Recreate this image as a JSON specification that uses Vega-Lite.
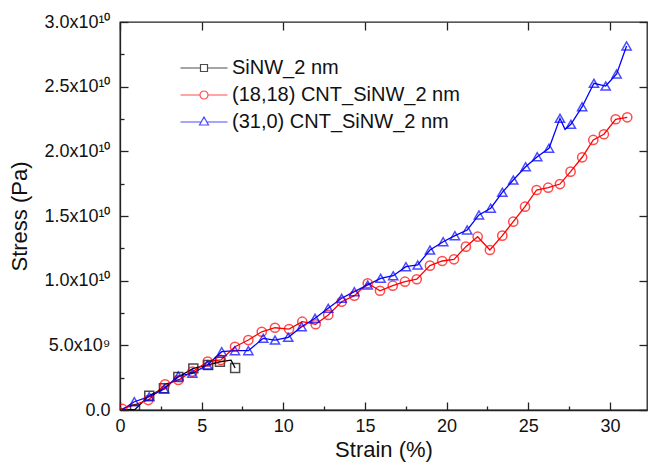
{
  "$schema": "https://vega.github.io/schema/vega-lite/v6.json",
  "width": 527,
  "height": 388,
  "autosize": {"type": "none"},
  "padding": {"left": 120, "top": 22, "right": 1, "bottom": 56},
  "background": "white",
  "config": {
    "font": "Liberation Sans",
    "view": {"stroke": "#222222", "strokeWidth": 1.3},
    "axis": {
      "domainColor": "#222222",
      "domainWidth": 1.3,
      "tickColor": "#222222",
      "tickWidth": 1.3,
      "labelFont": "Liberation Sans",
      "labelFontSize": 18,
      "labelColor": "#111111",
      "titleFont": "Liberation Sans",
      "titleFontSize": 22,
      "titleFontWeight": "normal",
      "titleColor": "#111111",
      "grid": false
    },
    "legend": {
      "labelFont": "Liberation Sans",
      "labelFontSize": 20,
      "labelColor": "#111111"
    }
  },
  "datasets": {
    "trace": [
      {"series": "SiNW_2 nm", "strain": 0.2, "stress": 0},
      {"series": "SiNW_2 nm", "strain": 0.92, "stress": 5e7},
      {"series": "SiNW_2 nm", "strain": 1.79, "stress": 1.11e9},
      {"series": "SiNW_2 nm", "strain": 2.69, "stress": 1.68e9},
      {"series": "SiNW_2 nm", "strain": 3.57, "stress": 2.55e9},
      {"series": "SiNW_2 nm", "strain": 4.49, "stress": 3.22e9},
      {"series": "SiNW_2 nm", "strain": 5.4, "stress": 3.48e9},
      {"series": "SiNW_2 nm", "strain": 6.12, "stress": 3.73e9},
      {"series": "SiNW_2 nm", "strain": 6.8, "stress": 3.85e9},
      {"series": "SiNW_2 nm", "strain": 7.05, "stress": 3.25e9},
      {"series": "(18,18) CNT_SiNW_2 nm", "strain": 0, "stress": 2e8},
      {"series": "(18,18) CNT_SiNW_2 nm", "strain": 0.14, "stress": 8e7},
      {"series": "(18,18) CNT_SiNW_2 nm", "strain": 1.73, "stress": 7.7e8},
      {"series": "(18,18) CNT_SiNW_2 nm", "strain": 2.76, "stress": 1.99e9},
      {"series": "(18,18) CNT_SiNW_2 nm", "strain": 3.57, "stress": 2.32e9},
      {"series": "(18,18) CNT_SiNW_2 nm", "strain": 4.43, "stress": 2.96e9},
      {"series": "(18,18) CNT_SiNW_2 nm", "strain": 5.37, "stress": 3.74e9},
      {"series": "(18,18) CNT_SiNW_2 nm", "strain": 6.18, "stress": 3.87e9},
      {"series": "(18,18) CNT_SiNW_2 nm", "strain": 7.04, "stress": 4.89e9},
      {"series": "(18,18) CNT_SiNW_2 nm", "strain": 7.86, "stress": 5.41e9},
      {"series": "(18,18) CNT_SiNW_2 nm", "strain": 8.68, "stress": 6.05e9},
      {"series": "(18,18) CNT_SiNW_2 nm", "strain": 9.49, "stress": 6.36e9},
      {"series": "(18,18) CNT_SiNW_2 nm", "strain": 10.35, "stress": 6.26e9},
      {"series": "(18,18) CNT_SiNW_2 nm", "strain": 11.16, "stress": 6.83e9},
      {"series": "(18,18) CNT_SiNW_2 nm", "strain": 11.98, "stress": 6.63e9},
      {"series": "(18,18) CNT_SiNW_2 nm", "strain": 12.75, "stress": 7.35e9},
      {"series": "(18,18) CNT_SiNW_2 nm", "strain": 13.57, "stress": 8.37e9},
      {"series": "(18,18) CNT_SiNW_2 nm", "strain": 14.35, "stress": 8.84e9},
      {"series": "(18,18) CNT_SiNW_2 nm", "strain": 15.17, "stress": 9.8e9},
      {"series": "(18,18) CNT_SiNW_2 nm", "strain": 15.92, "stress": 9.22e9},
      {"series": "(18,18) CNT_SiNW_2 nm", "strain": 16.7, "stress": 9.61e9},
      {"series": "(18,18) CNT_SiNW_2 nm", "strain": 17.45, "stress": 9.92e9},
      {"series": "(18,18) CNT_SiNW_2 nm", "strain": 18.17, "stress": 1.011e10},
      {"series": "(18,18) CNT_SiNW_2 nm", "strain": 18.98, "stress": 1.116e10},
      {"series": "(18,18) CNT_SiNW_2 nm", "strain": 19.73, "stress": 1.152e10},
      {"series": "(18,18) CNT_SiNW_2 nm", "strain": 20.45, "stress": 1.165e10},
      {"series": "(18,18) CNT_SiNW_2 nm", "strain": 21.18, "stress": 1.263e10},
      {"series": "(18,18) CNT_SiNW_2 nm", "strain": 21.9, "stress": 1.34e10},
      {"series": "(18,18) CNT_SiNW_2 nm", "strain": 22.65, "stress": 1.237e10},
      {"series": "(18,18) CNT_SiNW_2 nm", "strain": 23.41, "stress": 1.348e10},
      {"series": "(18,18) CNT_SiNW_2 nm", "strain": 24.08, "stress": 1.456e10},
      {"series": "(18,18) CNT_SiNW_2 nm", "strain": 24.8, "stress": 1.572e10},
      {"series": "(18,18) CNT_SiNW_2 nm", "strain": 25.51, "stress": 1.701e10},
      {"series": "(18,18) CNT_SiNW_2 nm", "strain": 26.22, "stress": 1.719e10},
      {"series": "(18,18) CNT_SiNW_2 nm", "strain": 26.94, "stress": 1.747e10},
      {"series": "(18,18) CNT_SiNW_2 nm", "strain": 27.59, "stress": 1.843e10},
      {"series": "(18,18) CNT_SiNW_2 nm", "strain": 28.3, "stress": 1.954e10},
      {"series": "(18,18) CNT_SiNW_2 nm", "strain": 28.98, "stress": 2.088e10},
      {"series": "(18,18) CNT_SiNW_2 nm", "strain": 29.63, "stress": 2.132e10},
      {"series": "(18,18) CNT_SiNW_2 nm", "strain": 30.35, "stress": 2.248e10},
      {"series": "(18,18) CNT_SiNW_2 nm", "strain": 31.06, "stress": 2.263e10},
      {"series": "(31,0) CNT_SiNW_2 nm", "strain": 0.1, "stress": 0},
      {"series": "(31,0) CNT_SiNW_2 nm", "strain": 0.88, "stress": 6.4e8},
      {"series": "(31,0) CNT_SiNW_2 nm", "strain": 1.79, "stress": 1.03e9},
      {"series": "(31,0) CNT_SiNW_2 nm", "strain": 2.71, "stress": 1.62e9},
      {"series": "(31,0) CNT_SiNW_2 nm", "strain": 3.57, "stress": 2.63e9},
      {"series": "(31,0) CNT_SiNW_2 nm", "strain": 4.43, "stress": 2.84e9},
      {"series": "(31,0) CNT_SiNW_2 nm", "strain": 5.35, "stress": 3.48e9},
      {"series": "(31,0) CNT_SiNW_2 nm", "strain": 6.23, "stress": 4.51e9},
      {"series": "(31,0) CNT_SiNW_2 nm", "strain": 7.04, "stress": 4.59e9},
      {"series": "(31,0) CNT_SiNW_2 nm", "strain": 7.86, "stress": 4.59e9},
      {"series": "(31,0) CNT_SiNW_2 nm", "strain": 8.77, "stress": 5.54e9},
      {"series": "(31,0) CNT_SiNW_2 nm", "strain": 9.49, "stress": 5.41e9},
      {"series": "(31,0) CNT_SiNW_2 nm", "strain": 10.3, "stress": 5.62e9},
      {"series": "(31,0) CNT_SiNW_2 nm", "strain": 11.12, "stress": 6.44e9},
      {"series": "(31,0) CNT_SiNW_2 nm", "strain": 11.94, "stress": 7.09e9},
      {"series": "(31,0) CNT_SiNW_2 nm", "strain": 12.75, "stress": 7.86e9},
      {"series": "(31,0) CNT_SiNW_2 nm", "strain": 13.57, "stress": 8.64e9},
      {"series": "(31,0) CNT_SiNW_2 nm", "strain": 14.35, "stress": 9.15e9},
      {"series": "(31,0) CNT_SiNW_2 nm", "strain": 15.17, "stress": 9.67e9},
      {"series": "(31,0) CNT_SiNW_2 nm", "strain": 15.96, "stress": 1.018e10},
      {"series": "(31,0) CNT_SiNW_2 nm", "strain": 16.73, "stress": 1.038e10},
      {"series": "(31,0) CNT_SiNW_2 nm", "strain": 17.51, "stress": 1.108e10},
      {"series": "(31,0) CNT_SiNW_2 nm", "strain": 18.23, "stress": 1.121e10},
      {"series": "(31,0) CNT_SiNW_2 nm", "strain": 18.98, "stress": 1.237e10},
      {"series": "(31,0) CNT_SiNW_2 nm", "strain": 19.79, "stress": 1.301e10},
      {"series": "(31,0) CNT_SiNW_2 nm", "strain": 20.51, "stress": 1.348e10},
      {"series": "(31,0) CNT_SiNW_2 nm", "strain": 21.26, "stress": 1.392e10},
      {"series": "(31,0) CNT_SiNW_2 nm", "strain": 21.98, "stress": 1.508e10},
      {"series": "(31,0) CNT_SiNW_2 nm", "strain": 22.7, "stress": 1.56e10},
      {"series": "(31,0) CNT_SiNW_2 nm", "strain": 23.41, "stress": 1.683e10},
      {"series": "(31,0) CNT_SiNW_2 nm", "strain": 24.08, "stress": 1.778e10},
      {"series": "(31,0) CNT_SiNW_2 nm", "strain": 24.84, "stress": 1.881e10},
      {"series": "(31,0) CNT_SiNW_2 nm", "strain": 25.55, "stress": 1.959e10},
      {"series": "(31,0) CNT_SiNW_2 nm", "strain": 26.27, "stress": 2.024e10},
      {"series": "(31,0) CNT_SiNW_2 nm", "strain": 26.94, "stress": 2.255e10},
      {"series": "(31,0) CNT_SiNW_2 nm", "strain": 27.25, "stress": 2.17e10},
      {"series": "(31,0) CNT_SiNW_2 nm", "strain": 27.61, "stress": 2.209e10},
      {"series": "(31,0) CNT_SiNW_2 nm", "strain": 28.3, "stress": 2.345e10},
      {"series": "(31,0) CNT_SiNW_2 nm", "strain": 29.02, "stress": 2.526e10},
      {"series": "(31,0) CNT_SiNW_2 nm", "strain": 29.74, "stress": 2.505e10},
      {"series": "(31,0) CNT_SiNW_2 nm", "strain": 30.41, "stress": 2.598e10},
      {"series": "(31,0) CNT_SiNW_2 nm", "strain": 31.02, "stress": 2.815e10}
    ],
    "markers": [
      {"series": "SiNW_2 nm", "strain": 0.92, "stress": 5e7},
      {"series": "SiNW_2 nm", "strain": 1.79, "stress": 1.11e9},
      {"series": "SiNW_2 nm", "strain": 2.69, "stress": 1.68e9},
      {"series": "SiNW_2 nm", "strain": 3.57, "stress": 2.55e9},
      {"series": "SiNW_2 nm", "strain": 4.49, "stress": 3.22e9},
      {"series": "SiNW_2 nm", "strain": 5.4, "stress": 3.48e9},
      {"series": "SiNW_2 nm", "strain": 6.12, "stress": 3.73e9},
      {"series": "SiNW_2 nm", "strain": 7.05, "stress": 3.25e9},
      {"series": "(18,18) CNT_SiNW_2 nm", "strain": 0.14, "stress": 8e7},
      {"series": "(18,18) CNT_SiNW_2 nm", "strain": 1.73, "stress": 7.7e8},
      {"series": "(18,18) CNT_SiNW_2 nm", "strain": 2.76, "stress": 1.99e9},
      {"series": "(18,18) CNT_SiNW_2 nm", "strain": 3.57, "stress": 2.32e9},
      {"series": "(18,18) CNT_SiNW_2 nm", "strain": 4.43, "stress": 2.96e9},
      {"series": "(18,18) CNT_SiNW_2 nm", "strain": 5.37, "stress": 3.74e9},
      {"series": "(18,18) CNT_SiNW_2 nm", "strain": 6.18, "stress": 3.87e9},
      {"series": "(18,18) CNT_SiNW_2 nm", "strain": 7.04, "stress": 4.89e9},
      {"series": "(18,18) CNT_SiNW_2 nm", "strain": 7.86, "stress": 5.41e9},
      {"series": "(18,18) CNT_SiNW_2 nm", "strain": 8.68, "stress": 6.05e9},
      {"series": "(18,18) CNT_SiNW_2 nm", "strain": 9.49, "stress": 6.36e9},
      {"series": "(18,18) CNT_SiNW_2 nm", "strain": 10.35, "stress": 6.26e9},
      {"series": "(18,18) CNT_SiNW_2 nm", "strain": 11.16, "stress": 6.83e9},
      {"series": "(18,18) CNT_SiNW_2 nm", "strain": 11.98, "stress": 6.63e9},
      {"series": "(18,18) CNT_SiNW_2 nm", "strain": 12.75, "stress": 7.35e9},
      {"series": "(18,18) CNT_SiNW_2 nm", "strain": 13.57, "stress": 8.37e9},
      {"series": "(18,18) CNT_SiNW_2 nm", "strain": 14.35, "stress": 8.84e9},
      {"series": "(18,18) CNT_SiNW_2 nm", "strain": 15.17, "stress": 9.8e9},
      {"series": "(18,18) CNT_SiNW_2 nm", "strain": 15.92, "stress": 9.22e9},
      {"series": "(18,18) CNT_SiNW_2 nm", "strain": 16.7, "stress": 9.61e9},
      {"series": "(18,18) CNT_SiNW_2 nm", "strain": 17.45, "stress": 9.92e9},
      {"series": "(18,18) CNT_SiNW_2 nm", "strain": 18.17, "stress": 1.011e10},
      {"series": "(18,18) CNT_SiNW_2 nm", "strain": 18.98, "stress": 1.116e10},
      {"series": "(18,18) CNT_SiNW_2 nm", "strain": 19.73, "stress": 1.152e10},
      {"series": "(18,18) CNT_SiNW_2 nm", "strain": 20.45, "stress": 1.165e10},
      {"series": "(18,18) CNT_SiNW_2 nm", "strain": 21.18, "stress": 1.263e10},
      {"series": "(18,18) CNT_SiNW_2 nm", "strain": 21.9, "stress": 1.34e10},
      {"series": "(18,18) CNT_SiNW_2 nm", "strain": 22.65, "stress": 1.237e10},
      {"series": "(18,18) CNT_SiNW_2 nm", "strain": 23.41, "stress": 1.348e10},
      {"series": "(18,18) CNT_SiNW_2 nm", "strain": 24.08, "stress": 1.456e10},
      {"series": "(18,18) CNT_SiNW_2 nm", "strain": 24.8, "stress": 1.572e10},
      {"series": "(18,18) CNT_SiNW_2 nm", "strain": 25.51, "stress": 1.701e10},
      {"series": "(18,18) CNT_SiNW_2 nm", "strain": 26.22, "stress": 1.719e10},
      {"series": "(18,18) CNT_SiNW_2 nm", "strain": 26.94, "stress": 1.747e10},
      {"series": "(18,18) CNT_SiNW_2 nm", "strain": 27.59, "stress": 1.843e10},
      {"series": "(18,18) CNT_SiNW_2 nm", "strain": 28.3, "stress": 1.954e10},
      {"series": "(18,18) CNT_SiNW_2 nm", "strain": 28.98, "stress": 2.088e10},
      {"series": "(18,18) CNT_SiNW_2 nm", "strain": 29.63, "stress": 2.132e10},
      {"series": "(18,18) CNT_SiNW_2 nm", "strain": 30.35, "stress": 2.248e10},
      {"series": "(18,18) CNT_SiNW_2 nm", "strain": 31.06, "stress": 2.263e10},
      {"series": "(31,0) CNT_SiNW_2 nm", "strain": 0.88, "stress": 6.4e8},
      {"series": "(31,0) CNT_SiNW_2 nm", "strain": 1.79, "stress": 1.03e9},
      {"series": "(31,0) CNT_SiNW_2 nm", "strain": 2.71, "stress": 1.62e9},
      {"series": "(31,0) CNT_SiNW_2 nm", "strain": 3.57, "stress": 2.63e9},
      {"series": "(31,0) CNT_SiNW_2 nm", "strain": 4.43, "stress": 2.84e9},
      {"series": "(31,0) CNT_SiNW_2 nm", "strain": 5.35, "stress": 3.48e9},
      {"series": "(31,0) CNT_SiNW_2 nm", "strain": 6.23, "stress": 4.51e9},
      {"series": "(31,0) CNT_SiNW_2 nm", "strain": 7.04, "stress": 4.59e9},
      {"series": "(31,0) CNT_SiNW_2 nm", "strain": 7.86, "stress": 4.59e9},
      {"series": "(31,0) CNT_SiNW_2 nm", "strain": 8.77, "stress": 5.54e9},
      {"series": "(31,0) CNT_SiNW_2 nm", "strain": 9.49, "stress": 5.41e9},
      {"series": "(31,0) CNT_SiNW_2 nm", "strain": 10.3, "stress": 5.62e9},
      {"series": "(31,0) CNT_SiNW_2 nm", "strain": 11.12, "stress": 6.44e9},
      {"series": "(31,0) CNT_SiNW_2 nm", "strain": 11.94, "stress": 7.09e9},
      {"series": "(31,0) CNT_SiNW_2 nm", "strain": 12.75, "stress": 7.86e9},
      {"series": "(31,0) CNT_SiNW_2 nm", "strain": 13.57, "stress": 8.64e9},
      {"series": "(31,0) CNT_SiNW_2 nm", "strain": 14.35, "stress": 9.15e9},
      {"series": "(31,0) CNT_SiNW_2 nm", "strain": 15.17, "stress": 9.67e9},
      {"series": "(31,0) CNT_SiNW_2 nm", "strain": 15.96, "stress": 1.018e10},
      {"series": "(31,0) CNT_SiNW_2 nm", "strain": 16.73, "stress": 1.038e10},
      {"series": "(31,0) CNT_SiNW_2 nm", "strain": 17.51, "stress": 1.108e10},
      {"series": "(31,0) CNT_SiNW_2 nm", "strain": 18.23, "stress": 1.121e10},
      {"series": "(31,0) CNT_SiNW_2 nm", "strain": 18.98, "stress": 1.237e10},
      {"series": "(31,0) CNT_SiNW_2 nm", "strain": 19.79, "stress": 1.301e10},
      {"series": "(31,0) CNT_SiNW_2 nm", "strain": 20.51, "stress": 1.348e10},
      {"series": "(31,0) CNT_SiNW_2 nm", "strain": 21.26, "stress": 1.392e10},
      {"series": "(31,0) CNT_SiNW_2 nm", "strain": 21.98, "stress": 1.508e10},
      {"series": "(31,0) CNT_SiNW_2 nm", "strain": 22.7, "stress": 1.56e10},
      {"series": "(31,0) CNT_SiNW_2 nm", "strain": 23.41, "stress": 1.683e10},
      {"series": "(31,0) CNT_SiNW_2 nm", "strain": 24.08, "stress": 1.778e10},
      {"series": "(31,0) CNT_SiNW_2 nm", "strain": 24.84, "stress": 1.881e10},
      {"series": "(31,0) CNT_SiNW_2 nm", "strain": 25.55, "stress": 1.959e10},
      {"series": "(31,0) CNT_SiNW_2 nm", "strain": 26.27, "stress": 2.024e10},
      {"series": "(31,0) CNT_SiNW_2 nm", "strain": 26.94, "stress": 2.255e10},
      {"series": "(31,0) CNT_SiNW_2 nm", "strain": 27.61, "stress": 2.209e10},
      {"series": "(31,0) CNT_SiNW_2 nm", "strain": 28.3, "stress": 2.345e10},
      {"series": "(31,0) CNT_SiNW_2 nm", "strain": 29.02, "stress": 2.526e10},
      {"series": "(31,0) CNT_SiNW_2 nm", "strain": 29.74, "stress": 2.505e10},
      {"series": "(31,0) CNT_SiNW_2 nm", "strain": 30.41, "stress": 2.598e10},
      {"series": "(31,0) CNT_SiNW_2 nm", "strain": 31.02, "stress": 2.815e10}
    ]
  },
  "resolve": {"axis": {"x": "independent", "y": "independent"}},
  "layer": [
    {
      "data": {"name": "trace"},
      "mark": {"type": "line", "strokeWidth": 1.3, "clip": true},
      "encoding": {
        "x": {
          "field": "strain", "type": "quantitative",
          "scale": {"domain": [0, 32.27], "nice": false, "zero": false},
          "axis": {"orient": "bottom", "values": [0, 5, 10, 15, 20, 25, 30], "tickSize": -8, "labelPadding": 15, "title": "Strain (%)", "titlePadding": 4, "labelFlush": false}
        },
        "y": {
          "field": "stress", "type": "quantitative",
          "scale": {"domain": [0, 3e10], "nice": false},
          "axis": {"orient": "left", "values": [0, 5e9, 1e10, 1.5e10, 2e10, 2.5e10, 3e10], "tickSize": -8, "labelPadding": 18, "title": "Stress (Pa)", "titlePadding": 12, "labelFlush": false,
            "labelExpr": "datum.value == 0 ? '0.0' : (datum.value < 1e10 ? format(datum.value / 1e9, '.1f') + 'x10⁹' : format(datum.value / 1e10, '.1f') + 'x10¹⁰')"}
        },
        "color": {
          "field": "series", "type": "nominal",
          "scale": {"domain": ["SiNW_2 nm", "(18,18) CNT_SiNW_2 nm", "(31,0) CNT_SiNW_2 nm"], "range": ["#000000", "#ff0000", "#0000ff"]}
        },
        "order": {"field": "strain", "type": "quantitative"}
      }
    },
    {
      "data": {"name": "markers"},
      "transform": [{"filter": "datum.series == 'SiNW_2 nm'"}],
      "mark": {"type": "point", "shape": "square", "filled": false, "strokeWidth": 1.5, "size": 80, "clip": true},
      "encoding": {
        "x": {
          "field": "strain", "type": "quantitative",
          "axis": {"orient": "bottom", "values": [2.5, 7.5, 12.5, 17.5, 22.5, 27.5], "tickSize": -4, "labels": false, "domain": false, "title": null}
        },
        "y": {
          "field": "stress", "type": "quantitative",
          "axis": {"orient": "left", "values": [2.5e9, 7.5e9, 1.25e10, 1.75e10, 2.25e10, 2.75e10], "tickSize": -4, "labels": false, "domain": false, "title": null}
        },
        "color": {"field": "series", "type": "nominal"}
      }
    },
    {
      "data": {"name": "markers"},
      "transform": [{"filter": "datum.series == '(18,18) CNT_SiNW_2 nm'"}],
      "mark": {"type": "point", "shape": "circle", "filled": false, "strokeWidth": 1.5, "size": 85, "clip": true},
      "encoding": {
        "x": {"field": "strain", "type": "quantitative", "axis": null},
        "y": {"field": "stress", "type": "quantitative", "axis": null},
        "color": {"field": "series", "type": "nominal"}
      }
    },
    {
      "data": {"name": "markers"},
      "transform": [{"filter": "datum.series == '(31,0) CNT_SiNW_2 nm'"}],
      "mark": {"type": "point", "shape": "triangle-up", "filled": false, "strokeWidth": 1.5, "size": 85, "clip": true},
      "encoding": {
        "x": {"field": "strain", "type": "quantitative", "axis": null},
        "y": {"field": "stress", "type": "quantitative", "axis": null},
        "color": {"field": "series", "type": "nominal"}
      }
    },
    {
      "data": {"name": "markers"},
      "mark": {"type": "point", "opacity": 0, "filled": false, "size": 400, "clip": true},
      "encoding": {
        "x": {
          "field": "strain", "type": "quantitative",
          "axis": {"orient": "top", "values": [0, 5, 10, 15, 20, 25, 30], "tickSize": -8, "labels": false, "domain": false, "title": null}
        },
        "y": {
          "field": "stress", "type": "quantitative",
          "axis": {"orient": "right", "values": [0, 5e9, 1e10, 1.5e10, 2e10, 2.5e10, 3e10], "tickSize": -8, "labels": false, "domain": false, "title": null}
        },
        "color": {
          "field": "series", "type": "nominal",
          "legend": {
            "orient": "none", "legendX": 73, "legendY": 35, "title": null, "padding": 0,
            "symbolSize": 400, "symbolStrokeWidth": 1.2, "symbolOpacity": 1, "symbolFillColor": "transparent",
            "labelOffset": 17, "rowPadding": 6, "labelLimit": 0
          }
        },
        "shape": {
          "field": "series", "type": "nominal",
          "scale": {
            "domain": ["SiNW_2 nm", "(18,18) CNT_SiNW_2 nm", "(31,0) CNT_SiNW_2 nm"],
            "range": [
              "M-2.35,0H-0.35M0.35,0H2.35M-0.35,-0.35H0.35V0.35H-0.35Z",
              "M-2.35,0H-0.4M0.4,0H2.35M0.4,0A0.4,0.4 0 1 1 -0.4,0A0.4,0.4 0 1 1 0.4,0Z",
              "M-2.35,0H-0.28M0.28,0H2.35M0,-0.5L0.45,0.3H-0.45Z"
            ]
          },
          "legend": {
            "orient": "none", "legendX": 73, "legendY": 35, "title": null, "padding": 0,
            "symbolSize": 400, "symbolStrokeWidth": 1.2, "symbolOpacity": 1, "symbolFillColor": "transparent",
            "labelOffset": 17, "rowPadding": 6, "labelLimit": 0
          }
        }
      }
    }
  ]
}
